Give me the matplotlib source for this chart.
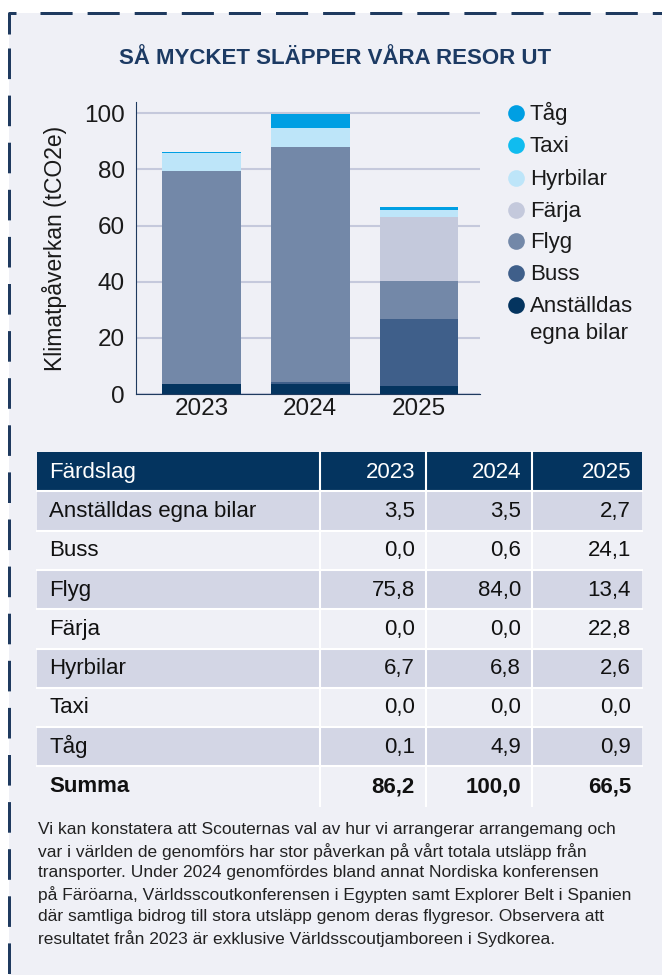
import matplotlib.pyplot as plt
import numpy as np
from matplotlib.lines import Line2D
from matplotlib.patches import Rectangle

# Data
years = ['2023', '2024', '2025']
categories = ['Anställdas egna bilar', 'Buss', 'Flyg', 'Färja', 'Hyrbilar', 'Taxi', 'Tåg']
anstalldas = [3.5, 3.5, 2.7]
buss = [0.0, 0.6, 24.1]
flyg = [75.8, 84.0, 13.4]
farja = [0.0, 0.0, 22.8]
hyrbilar = [6.7, 6.8, 2.6]
taxi = [0.0, 0.0, 0.0]
tag = [0.1, 4.9, 0.9]
summa = [86.2, 100.0, 66.5]
series = [anstalldas, buss, flyg, farja, hyrbilar, taxi, tag]
legend_labels = ['Tåg', 'Taxi', 'Hyrbilar', 'Färja', 'Flyg', 'Buss', 'Anställdas\negna bilar']

colors = ['#04345f', '#3f5f8a', '#7388a8', '#c4c9dc', '#bde5f9', '#10bcef', '#009fe3']
navy = '#04345f'
bg_col = '#eff0f6'
font = 'Liberation Sans'
txt_col = '#1a1a1a'

W, H = 662, 975
fig = plt.figure(figsize=(W / 100, H / 100), dpi=100)
fig.patch.set_facecolor('white')

# overlay in pixel coordinates
bg = fig.add_axes([0, 0, 1, 1], zorder=0)
bg.set_xlim(0, W)
bg.set_ylim(H, 0)
bg.axis('off')
bg.add_patch(Rectangle((9, 13), W, H, color=bg_col, lw=0))
border = dict(color='#1f3a5f', lw=2.16, solid_capstyle='butt', dash_capstyle='butt')
bg.add_line(Line2D([9, 9, 16], [34, 13, 13], **border))
bg.add_line(Line2D([40, W + 5], [13, 13], dashes=(10.7, 5.0), **border))
bg.add_line(Line2D([9, 9], [48, H + 5], dashes=(10.2, 5.5), **border))

bg.text(335, 58, 'SÅ MYCKET SLÄPPER VÅRA RESOR UT', ha='center', va='center',
        fontsize=16, fontweight='bold', color='#1c3a63', family=font)

# Chart
ax = fig.add_axes([136 / W, 1 - 394 / H, (480 - 136) / W, (394 - 102) / H], zorder=1)
ax.set_facecolor('none')
x = np.arange(len(years))
bottom = np.zeros(len(years))
for vals, c in zip(series, colors):
    ax.bar(x, vals, bottom=bottom, width=0.725, color=c, zorder=2)
    bottom += np.array(vals)
ax.set_xlim(-0.6, 2.56)
ax.set_ylim(0, 104)
ax.set_yticks([0, 20, 40, 60, 80, 100])
ax.set_xticks(x)
ax.set_xticklabels(years)
ax.tick_params(axis='y', length=0, labelsize=17.5, pad=8, colors=txt_col)
ax.tick_params(axis='x', length=0, labelsize=17.5, pad=3, colors=txt_col)
for lab in ax.get_xticklabels() + ax.get_yticklabels():
    lab.set_family(font)
ax.grid(axis='y', color='#c5c9dc', lw=1.5, zorder=0)
for s in ['top', 'right']:
    ax.spines[s].set_visible(False)
ax.spines['left'].set_color('#1f3a5f')
ax.spines['bottom'].set_color('#1f3a5f')
ax.set_ylabel('Klimatpåverkan (tCO2e)', fontsize=16.5, family=font, color=txt_col, labelpad=12)

# Legend
leg_y = [113, 145, 178, 210, 241, 273, 305]
for lbl, c, yy in zip(legend_labels, colors[::-1], leg_y):
    bg.plot(516, yy, 'o', ms=12, color=c, mec='none')
    for k, line in enumerate(lbl.split('\n')):
        bg.text(530, yy + 7 + 27 * k, line, ha='left', va='baseline', fontsize=16,
                family=font, color=txt_col)

# Table
col_edges = [37, 320, 426, 532, 642]
top = 452
rh = 39.3
fmt = lambda v: f'{v:.1f}'.replace('.', ',')
tfs = 16
bg.add_patch(Rectangle((col_edges[0], top), col_edges[-1] - col_edges[0], rh, color=navy, lw=0))
bg.text(49, top + rh / 2 + 6, 'Färdslag', color='white', fontsize=tfs, va='baseline', family=font)
for j, yr in enumerate(years):
    bg.text(col_edges[j + 2] - 11, top + rh / 2 + 6, yr, color='white', fontsize=tfs,
            va='baseline', ha='right', family=font)
rows = [(cat, vals) for cat, vals in zip(categories, series)] + [('Summa', summa)]
for i, (cat, vals) in enumerate(rows):
    y0 = top + rh * (i + 1)
    if i % 2 == 0 and cat != 'Summa':
        bg.add_patch(Rectangle((col_edges[0], y0), col_edges[-1] - col_edges[0], rh,
                               color='#d3d6e5', lw=0))
    wt = 'bold' if cat == 'Summa' else 'normal'
    bg.text(49, y0 + rh / 2 + 6, cat, fontsize=tfs, va='baseline', family=font,
            color='#111111', fontweight=wt)
    for j, v in enumerate(vals):
        bg.text(col_edges[j + 2] - 11, y0 + rh / 2 + 6, fmt(v), fontsize=tfs, va='baseline',
                ha='right', family=font, color='#111111', fontweight=wt)
for xe in col_edges[1:-1]:
    bg.plot([xe, xe], [top, top + rh * 9], color='white', lw=1.5)
for i in range(1, 9):
    bg.plot([col_edges[0], col_edges[-1]], [top + rh * i] * 2, color='white', lw=1.5)

# Paragraph
note = ('Vi kan konstatera att Scouternas val av hur vi arrangerar arrangemang och\n'
        'var i världen de genomförs har stor påverkan på vårt totala utsläpp från\n'
        'transporter. Under 2024 genomfördes bland annat Nordiska konferensen\n'
        'på Färöarna, Världsscoutkonferensen i Egypten samt Explorer Belt i Spanien\n'
        'där samtliga bidrog till stora utsläpp genom deras flygresor. Observera att\n'
        'resultatet från 2023 är exklusive Världsscoutjamboreen i Sydkorea.')
bg.text(38, 822, note, ha='left', va='top', fontsize=12.5, family=font,
        color='#222222', linespacing=1.44)

plt.savefig('out.png', dpi=100, facecolor=fig.get_facecolor())
